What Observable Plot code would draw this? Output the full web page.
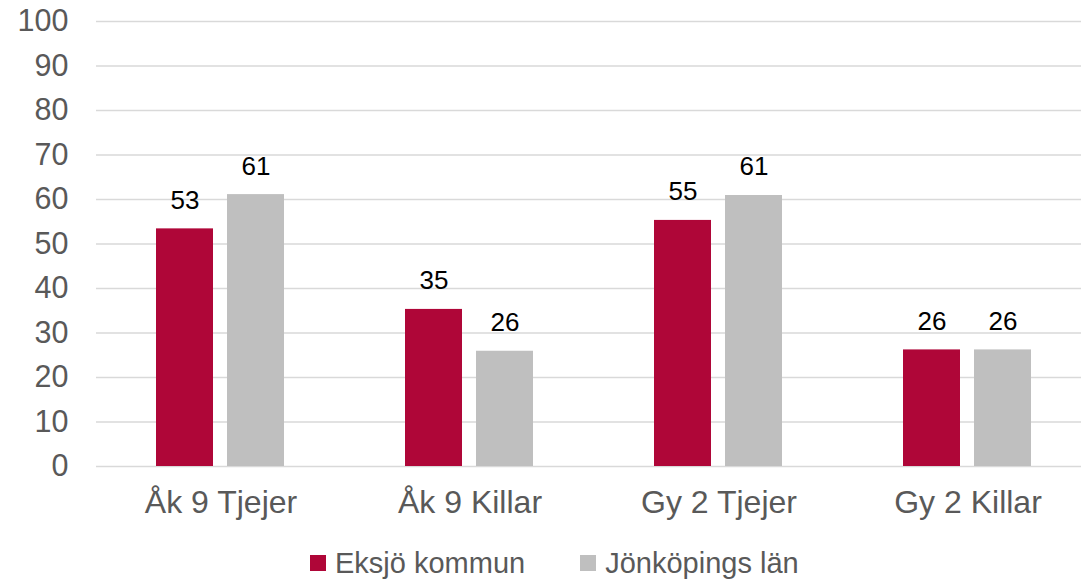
<!DOCTYPE html>
<html>
<head>
<meta charset="utf-8">
<script src="https://cdn.jsdelivr.net/npm/d3@7"></script>
<script src="https://cdn.jsdelivr.net/npm/@observablehq/plot@0.6"></script>
<style>
  html, body { margin: 0; padding: 0; background: #fff; overflow: hidden; }
  #wrap { width: 1081px; height: 582px; overflow: hidden; font-family: "Liberation Sans", Arial, sans-serif; }
  #chart svg { overflow: hidden; }
  #legend { height: 38px; padding-top: 24px; padding-left: 310px; display: flex; align-items: center; font-size: 29px; color: #595959; }
  .item { display: flex; align-items: center; margin-right: 55px; }
  .sw { width: 16px; height: 16px; margin-right: 9px; }
</style>
</head>
<body>
<div id="wrap">
  <div id="chart"></div>
  <div id="legend"></div>
</div>
<script>
const categories = ["Åk 9 Tjejer", "Åk 9 Killar", "Gy 2 Tjejer", "Gy 2 Killar"];
const series = ["Eksjö kommun", "Jönköpings län"];
const eksjo = [53.4, 35.3, 55.3, 26.2];
const jonkoping = [61.1, 25.9, 60.9, 26.2];
const eksjoLabels = ["53", "35", "55", "26"];
const jonkopingLabels = ["61", "26", "61", "26"];
const yTicks = [0, 10, 20, 30, 40, 50, 60, 70, 80, 90, 100];
const colors = ["#AF0638", "#BFBFBF"];

const data = categories.flatMap((c, i) => [
  {category: c, series: series[0], value: eksjo[i], label: eksjoLabels[i]},
  {category: c, series: series[1], value: jonkoping[i], label: jonkopingLabels[i]}
]);

const chart = Plot.plot({
  width: 1081,
  height: 520,
  marginLeft: 94,
  marginRight: 0,
  marginTop: 21,
  marginBottom: 54,
  style: {fontFamily: '"Liberation Sans", Arial, sans-serif', background: "#fff"},
  fx: {domain: categories, range: [94, 1093], padding: 0, label: null},
  x: {domain: series, paddingInner: 0.194, paddingOuter: 0.83, axis: null},
  y: {domain: [0, 100], label: null},
  color: {domain: series, range: colors},
  marks: [
    Plot.ruleY(yTicks, {stroke: "#D9D9D9", strokeWidth: 1.5}),
    Plot.barY(data, {fx: "category", x: "series", y: "value", fill: "series"}),
    Plot.text(data, {fx: "category", x: "series", y: "value", text: "label", lineAnchor: "bottom", dy: -20, fontSize: 26, fill: "#000"}),
    Plot.axisY({ticks: yTicks, tickSize: 0, tickPadding: 28, fontSize: 30.5, color: "#595959", label: null}),
    Plot.axisFx({anchor: "bottom", tickSize: 0, tickPadding: 24, fontSize: 32, color: "#595959", label: null})
  ]
});
document.getElementById("chart").appendChild(chart);

const legend = document.getElementById("legend");
series.forEach((s, i) => {
  const item = document.createElement("div");
  item.className = "item";
  const sw = document.createElement("span");
  sw.className = "sw";
  sw.style.background = colors[i];
  const t = document.createElement("span");
  t.textContent = s;
  item.appendChild(sw);
  item.appendChild(t);
  legend.appendChild(item);
});
</script>
</body>
</html>
